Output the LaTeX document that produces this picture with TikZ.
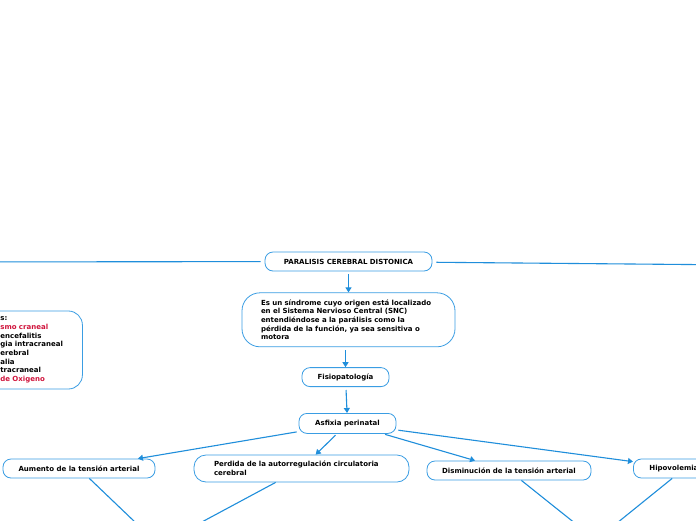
\documentclass[tikz,border=0pt]{standalone}
\usepackage{fontspec}
\setmainfont{DejaVu Sans}
\usepackage{xcolor}
\definecolor{map-blue}{HTML}{3A9DE3}
\definecolor{link-blue}{HTML}{1F8EDB}
\definecolor{map-red}{HTML}{D0143C}
\usepackage{tikz}
\usetikzlibrary{positioning}
\usetikzlibrary{arrows.meta}
\tikzset{box/.style = {draw=map-blue, line width=.8pt, rounded corners=8pt, align=center, inner sep=0pt, fill=white}}
\tikzset{wide/.style = {draw=map-blue, line width=.8pt, rounded corners=14pt, align=left, inner ysep=0pt, fill=white}}
\tikzset{arr/.style = {draw=link-blue, line width=1.1pt, shorten <=2pt, -{Triangle[length=5pt,width=6pt]}}}
\tikzset{link/.style = {draw=link-blue, line width=1.1pt}}

\begin{document}
\begin{tikzpicture}[x=1pt, y=-1pt,
  node distance = 20pt,
  font=\fontsize{7}{8.7}\selectfont\bfseries
]
\fill[white] (0,0) rectangle (696,520);
\useasboundingbox (0,0) rectangle (696,520);
\clip (0,0) rectangle (696,520);

\node[box, minimum width=167pt, minimum height=19pt] (tit) at (348.5,261.5) {PARALISIS CEREBRAL DISTONICA};
\node[wide, below=21pt of tit, text width=175pt, inner xsep=19pt, minimum height=54pt, rounded corners=18pt] (def) {
  Es un síndrome cuyo origen está localizado\\
  en el Sistema Nervioso Central (SNC)\\
  entendiéndose a la parálisis como la\\
  pérdida de la función, ya sea sensitiva o\\
  motora
};
\node[box, below=20pt of def, xshift=-3pt, minimum width=87pt, minimum height=19pt] (fis) {Fisiopatología};
\node[box, below=26pt of fis, xshift=2pt, minimum width=97pt, minimum height=20pt] (asf) {Asfixia perinatal};

% causes box runs off the left edge
\node[wide, anchor=west, text width=66pt, inner xsep=16pt, minimum height=78pt] (cau) at (-16,350) {
  s:\\
  \textcolor{map-red}{smo craneal}\\
  encefalitis\\
  gia intracraneal\\
  erebral\\
  alia\\
  tracraneal\\
  \textcolor{map-red}{de Oxigeno}
};

\node[box, minimum width=152pt, minimum height=19pt] (aum) at (79,468.5) {Aumento de la tensión arterial};
\node[wide, text width=175pt, inner xsep=20pt, minimum height=27pt, rounded corners=12pt] (per) at (301.5,468.5) {
  Perdida de la autorregulación circulatoria\\
  cerebral
};
\node[box, minimum width=164pt, minimum height=19pt] (dis) at (509,470.5) {Disminución de la tensión arterial};
\node[wide, anchor=west, text width=70pt, inner xsep=16pt, minimum height=19pt, rounded corners=8pt] (hip) at (633,468.5) {Hipovolemia};

% ends of links that leave the picture
\coordinate (far-left) at (-80,262);
\coordinate (far-right) at (800,265.5);
\coordinate (low-left) at (159,545);
\coordinate (low-right) at (596,540);

\draw[link, shorten <=4pt]  (tit) -- (far-left);
\draw[link, shorten <=4pt]  (tit) -- (far-right);
\draw[arr, shorten <=3pt]  (tit) -- (def);
\draw[arr, shorten <=3pt]  (def.south -| fis) -- (fis);
\draw[arr, shorten <=3pt]  (fis) -- (asf);
\draw[arr]  (asf) -- (aum);
\draw[arr]  (asf) -- (per);
\draw[arr]  (asf) -- (dis);
\draw[arr]  (asf) -- (hip);
\draw[link]  (aum) -- (low-left);
\draw[link]  (per) -- (low-left);
\draw[link]  (dis) -- (low-right);
\draw[link]  (hip) -- (low-right);

\end{tikzpicture}
\end{document}
